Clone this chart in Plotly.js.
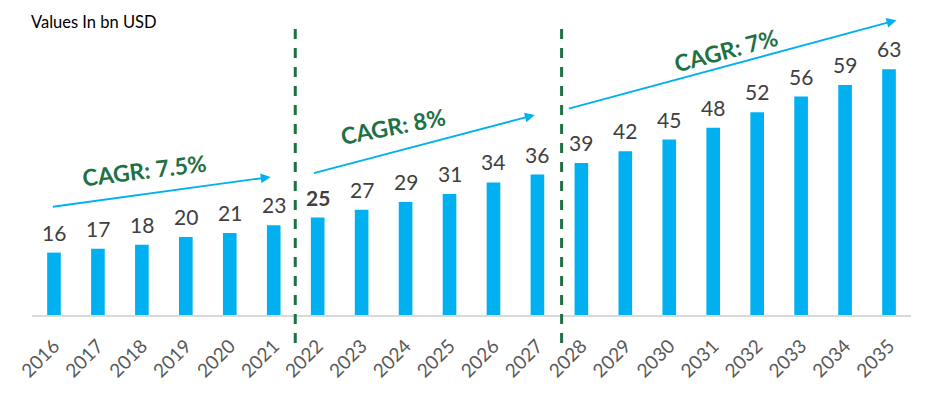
<!DOCTYPE html>
<html>
<head>
<meta charset="utf-8">
<script src="https://cdn.plot.ly/plotly-3.0.1.min.js"></script>
<style>html,body{margin:0;padding:0;background:#fff;}#chart{width:933px;height:394px;}</style>
</head>
<body>
<div id="chart"></div>
<script>
const years = ['2016','2017','2018','2019','2020','2021','2022','2023','2024','2025','2026','2027','2028','2029','2030','2031','2032','2033','2034','2035'];
const values = [16,17,18,20,21,23,25,27,29,31,34,36,39,42,45,48,52,56,59,63];
const cagrLabels = ['CAGR: 7.5%','CAGR: 8%','CAGR: 7%'];
const unitLabel = 'Values In bn USD';

const green = '#1E7145';
const blue = '#00B0F0';

const trace = {
  type: 'bar',
  x: years,
  y: values,
  marker: {color: blue},
  hoverinfo: 'none'
};

const valueLabels = years.map((yr,i)=>({
  x: i, y: values[i], xref:'x', yref:'y', showarrow:false,
  text: i===6 ? '<b>'+values[i]+'</b>' : String(values[i]),
  yanchor:'bottom', xanchor:'center', yshift: 6,
  font:{family:'Lato, sans-serif', size:21, color:'#404040'}
}));

function arrow(x0,y0,x1,y1){
  return {x:x1,y:y1,ax:x0,ay:y0,xref:'x',yref:'y',axref:'x',ayref:'y',
    text:'',showarrow:true,arrowhead:2,arrowsize:1.1,arrowwidth:1.8,arrowcolor:blue,standoff:0,startstandoff:0};
}
function cagr(txt,x,y,ang){
  return {x:x,y:y,xref:'x',yref:'y',text:'<b>'+txt+'</b>',showarrow:false,textangle:ang,
    font:{family:'Lato, sans-serif',size:23,color:green},xanchor:'center',yanchor:'middle'};
}

const layout = {
  width: 933, height: 394,
  margin: {l:32, r:22, t:3, b:79},
  paper_bgcolor: '#fff', plot_bgcolor: '#fff',
  bargap: 0.69,
  showlegend: false,
  xaxis: {
    type: 'category',
    categoryarray: years, categoryorder: 'array',
    range: [-0.5, years.length - 0.5],
    showgrid: false, zeroline: false,
    showline: true, linecolor: '#D9D9D9', linewidth: 1.5,
    ticks: '', tickangle: -45, ticklabelstandoff: 11,
    tickfont: {family: 'Lato, sans-serif', size: 19, color: '#595959'}
  },
  yaxis: {range: [0, 80], visible: false, fixedrange: true},
  shapes: [
    {type:'line', xref:'x', yref:'paper', x0:5.49, x1:5.49, y0:-0.09, y1:0.926,
     line:{color:green, width:3, dash:'10px,9px'}},
    {type:'line', xref:'x', yref:'paper', x0:11.55, x1:11.55, y0:-0.09, y1:0.93,
     line:{color:green, width:3, dash:'10px,9px'}}
  ],
  annotations: valueLabels.concat([
    arrow(-0.06,27.7,4.93,35.4),
    arrow(5.88,36.3,10.94,51.3),
    arrow(11.68,52.8,19.17,75.6),
    cagr(cagrLabels[0],2.07,37.2,-7),
    cagr(cagrLabels[1],7.72,48.5,-11),
    cagr(cagrLabels[2],15.29,67.9,-15),
    {x:0,y:1,xref:'paper',yref:'paper',xanchor:'left',yanchor:'middle',yshift:-19,xshift:-3,showarrow:false,
     text:unitLabel,font:{family:'Lato, sans-serif',size:16.5,color:'#000'}}
  ])
};

Plotly.newPlot('chart',[trace],layout,{staticPlot:true,displayModeBar:false});
</script>
</body>
</html>
